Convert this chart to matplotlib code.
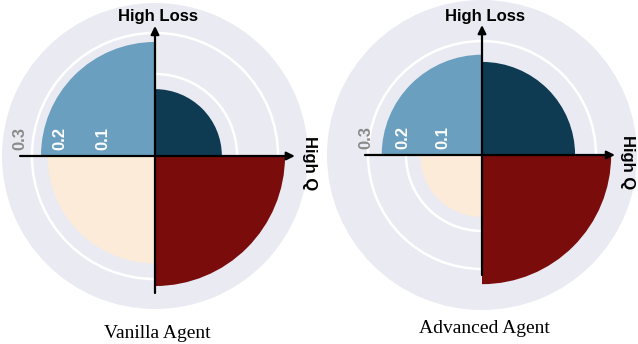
import matplotlib
matplotlib.use("Agg")
import matplotlib.pyplot as plt
import matplotlib.transforms as mtransforms
import numpy as np

# quadrant order: upper-right, upper-left, lower-left, lower-right
quadrants = ["UR", "UL", "LL", "LR"]
colors = ["#0e3a52", "#6a9fbf", "#fcebd8", "#7a0c0c"]

titles = ["Vanilla Agent", "Advanced Agent"]
vanilla = [0.163, 0.278, 0.262, 0.317]
advanced = [0.245, 0.264, 0.163, 0.340]

rticks = [0.1, 0.2, 0.3]
rtick_labels = ["0.1", "0.2", "0.3"]
rtick_colors = ["white", "white", "#8a8a8a"]

W, H = 638, 344
fig = plt.figure(figsize=(W / 100, H / 100), dpi=100)


def px(x, y):
    # pixel (from top-left) -> figure fraction
    return x / W, 1 - y / H


def draw(cx, cy, rad, rmax, vals, label_r, axis_len, title, title_y, hq_x, hl_y):
    # axes placed so that the grey disc has radius `rad` px around (cx, cy)
    ax = fig.add_axes([(cx - rad) / W, (H - cy - rad) / H, 2 * rad / W, 2 * rad / H],
                      projection="polar")
    ax.set_facecolor("#EAEAF2")
    ax.set_ylim(0, rmax)
    ax.set_axisbelow(True)
    ax.spines["polar"].set_visible(False)
    ax.set_xticks([])
    ax.set_yticks(rticks)
    ax.set_yticklabels([])
    ax.yaxis.grid(True, color="white", lw=1.8)
    ax.xaxis.grid(False)

    theta = np.radians([45, 135, 225, 315])
    ax.bar(theta, vals, width=np.pi / 2, color=colors, edgecolor="none", zorder=2)

    # radial labels, rotated, sitting just above the left axis line
    trans = mtransforms.offset_copy(ax.transData, fig=fig, x=0, y=4.5, units="points")
    for r, s, c in zip(label_r, rtick_labels, rtick_colors):
        ax.text(np.pi, r, s, rotation=90, ha="center", va="bottom", color=c,
                fontsize=12, fontweight="bold", family="Liberation Sans",
                transform=trans, zorder=5)

    left, right, top, bottom = axis_len
    arrow = dict(arrowstyle="-|>", lw=1.6, color="black", shrinkA=0, shrinkB=0,
                 mutation_scale=12)
    ax.annotate("", xy=(0, right), xytext=(np.pi, left), arrowprops=arrow, zorder=6)
    ax.annotate("", xy=(np.pi / 2, top), xytext=(3 * np.pi / 2, bottom),
                arrowprops=arrow, zorder=6)

    fig.text(*px(cx + 3, hl_y), "High Loss", ha="center", va="center",
             fontsize=12, fontweight="bold", family="Liberation Sans")
    fig.text(*px(hq_x, cy + 7), "High Q", ha="center", va="center", rotation=-90,
             fontsize=12, fontweight="bold", family="Liberation Sans")
    fig.text(*px(cx + 2, title_y), title, ha="center", va="baseline",
             fontsize=14, family="Liberation Serif")


draw(155, 156, 153, 0.373, vanilla, [0.127, 0.232, 0.330],
     (0.329, 0.341, 0.317, 0.334), titles[0], 338, 309, 17)
draw(482, 155, 155, 0.408, advanced, [0.103, 0.208, 0.305],
     (0.308, 0.350, 0.342, 0.316), titles[1], 333, 628, 16)

fig.savefig("out.png", dpi=100)
